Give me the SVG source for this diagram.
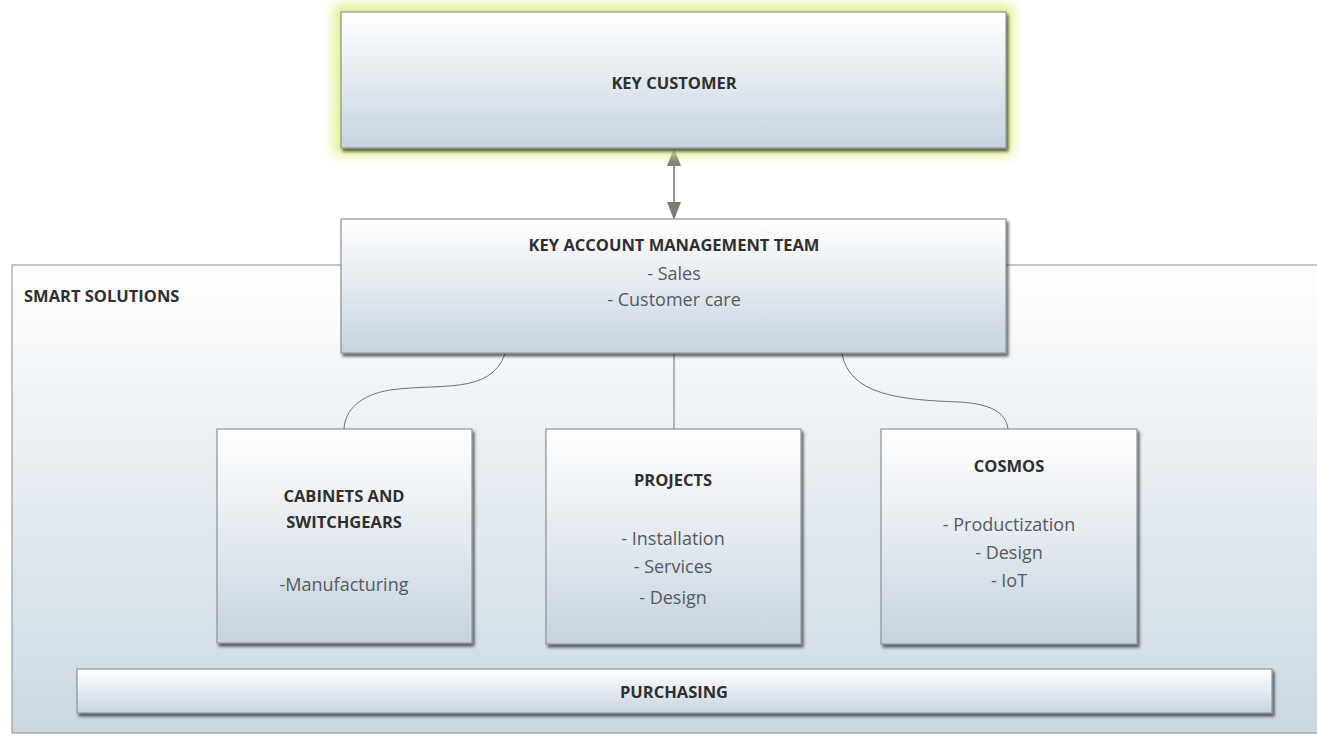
<svg xmlns="http://www.w3.org/2000/svg" width="1317" height="736" viewBox="0 0 1317 736">
<style>
.box{fill:url(#boxg);stroke:#8e9296;stroke-width:1.2;filter:url(#shadow)}
.title{font-family:"Open Sans","Liberation Sans",sans-serif;font-weight:bold;font-size:16.5px;fill:#2f2f2f;text-anchor:middle}
.item{font-family:"Open Sans","Liberation Sans",sans-serif;font-size:18px;fill:#555a5f;text-anchor:middle}
.conn{fill:none;stroke:#6f7275;stroke-width:1}
</style>
<defs>
<linearGradient id="boxg" x1="0" y1="0" x2="0" y2="1">
<stop offset="0" stop-color="#ffffff"/>
<stop offset="0.5" stop-color="#e4eaf0"/>
<stop offset="1" stop-color="#c6d3de"/>
</linearGradient>
<linearGradient id="contg" x1="0" y1="0" x2="0" y2="1">
<stop offset="0" stop-color="#ffffff"/>
<stop offset="1" stop-color="#cbd8e2"/>
</linearGradient>
<filter id="shadow" x="-5%" y="-5%" width="115%" height="125%">
<feGaussianBlur in="SourceAlpha" stdDeviation="1.5"/>
<feOffset dx="2" dy="3" result="o"/>
<feComponentTransfer><feFuncA type="linear" slope="0.6"/></feComponentTransfer>
<feMerge><feMergeNode/><feMergeNode in="SourceGraphic"/></feMerge>
</filter>
<filter id="glow" x="-10%" y="-30%" width="120%" height="160%">
<feGaussianBlur stdDeviation="6"/>
</filter>
<marker id="arr" markerWidth="18" markerHeight="14" refX="16" refY="7" orient="auto-start-reverse" markerUnits="userSpaceOnUse" viewBox="0 0 18 14">
<path d="M0,0 L18,7 L0,14 z" fill="#7b7e6c"/>
</marker>
</defs>
<rect width="1317" height="736" fill="#ffffff"/>
<g id="smart-solutions">
<rect x="12" y="265" width="1310" height="468" fill="url(#contg)" stroke="#9a9ea2" stroke-width="1.2"/>
<text x="24" y="302" class="title" style="text-anchor:start">SMART SOLUTIONS</text>
</g>
<g id="connectors">
<line x1="674" y1="150" x2="674" y2="218" stroke="#7b7e6c" stroke-width="1.6" marker-start="url(#arr)" marker-end="url(#arr)"/>
<path class="conn" d="M505,354 C490,395 440,383 390,390 C360,395 345,410 344,429"/>
<line class="conn" x1="674" y1="354" x2="674" y2="429"/>
<path class="conn" d="M842,354 C850,395 900,400 960,402 C990,404 1006,412 1008,429"/>
</g>
<g id="key-customer">
<rect x="334" y="5" width="679" height="150" fill="#def28a" filter="url(#glow)"/>
<rect class="box" x="341" y="12" width="665" height="136"/>
<text x="674" y="89" class="title">KEY CUSTOMER</text>
</g>
<g id="kam-team">
<rect class="box" x="341" y="219" width="665" height="134"/>
<text x="674" y="251" class="title">KEY ACCOUNT MANAGEMENT TEAM</text>
<text x="674" y="280" class="item">- Sales</text>
<text x="674" y="306" class="item">- Customer care</text>
</g>
<g id="cabinets">
<rect class="box" x="217" y="429" width="255" height="214"/>
<text x="344" y="502" class="title">CABINETS AND</text>
<text x="344" y="528" class="title">SWITCHGEARS</text>
<text x="344" y="591" class="item">-Manufacturing</text>
</g>
<g id="projects">
<rect class="box" x="546" y="429" width="255" height="215"/>
<text x="673" y="486" class="title">PROJECTS</text>
<text x="673" y="545" class="item">- Installation</text>
<text x="673" y="573" class="item">- Services</text>
<text x="673" y="604" class="item">- Design</text>
</g>
<g id="cosmos">
<rect class="box" x="881" y="429" width="256" height="215"/>
<text x="1009" y="472" class="title">COSMOS</text>
<text x="1009" y="531" class="item">- Productization</text>
<text x="1009" y="559" class="item">- Design</text>
<text x="1009" y="587" class="item">- IoT</text>
</g>
<g id="purchasing">
<rect class="box" x="77" y="669" width="1195" height="44"/>
<text x="674" y="698" class="title">PURCHASING</text>
</g>
</svg>
